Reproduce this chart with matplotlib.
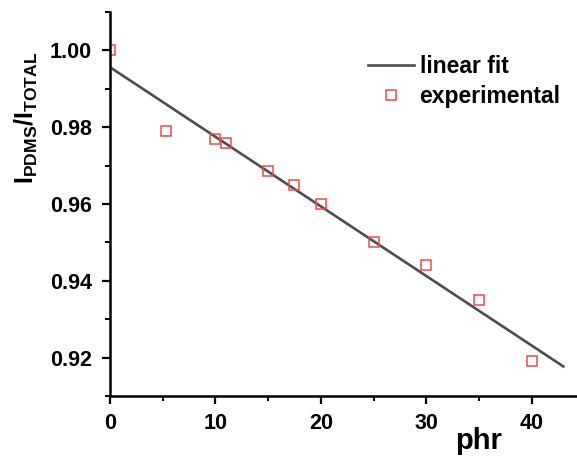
import matplotlib
matplotlib.use("Agg")
import matplotlib.pyplot as plt
from matplotlib.ticker import MultipleLocator, FormatStrFormatter
import numpy as np

# experimental points
phr = [0, 5.3, 10, 11, 15, 17.5, 20, 25, 30, 35, 40]
ratio = [1.000, 0.979, 0.977, 0.976, 0.9685, 0.965, 0.960, 0.950, 0.944, 0.935, 0.919]
fit_range = [0, 43]

plt.rcParams["font.family"] = ["Liberation Sans", "DejaVu Sans"]
plt.rcParams["font.weight"] = "bold"
plt.rcParams["mathtext.fontset"] = "custom"
plt.rcParams["mathtext.rm"] = "Liberation Sans:bold"
plt.rcParams["mathtext.bf"] = "Liberation Sans:bold"
plt.rcParams["mathtext.it"] = "Liberation Sans:bold"

fig = plt.figure(figsize=(5.77, 4.58), dpi=100)
ax = fig.add_axes([110 / 577, 1 - 396 / 458, 467 / 577, 384 / 458])

slope, intercept = np.polyfit(phr, ratio, 1)
xf = np.array(fit_range, dtype=float)
ax.plot(xf, intercept + slope * xf, color="#4d4d4d", lw=1.9, label="linear fit")
ax.plot(phr, ratio, ls="none", marker="s", ms=7.5, mfc="none", mec="#f04848",
        mew=1.1, label="experimental")

ax.set_xlim(0, 44.3)
ax.set_ylim(0.91, 1.01)
ax.xaxis.set_major_locator(MultipleLocator(10))
ax.xaxis.set_minor_locator(MultipleLocator(5))
ax.yaxis.set_major_locator(MultipleLocator(0.02))
ax.yaxis.set_minor_locator(MultipleLocator(0.01))
ax.yaxis.set_major_formatter(FormatStrFormatter("%.2f"))

for s in ["top", "right"]:
    ax.spines[s].set_visible(False)
for s in ["left", "bottom"]:
    ax.spines[s].set_linewidth(1.8)

ax.tick_params(which="major", direction="out", length=6, width=1.6, labelsize=15.5, pad=6)
ax.tick_params(which="minor", direction="out", length=3.5, width=1.4)
ax.tick_params(axis="y", which="major", pad=7)

ax.set_ylabel(r"$\mathrm{I_{PDMS}/I_{TOTAL}}$", fontsize=18)
ax.yaxis.set_label_coords(-0.15, 0.725)
fig.text(455 / 577, 1 - 449 / 458, "phr", fontsize=21, fontweight="bold")

ax.legend(loc="upper left", bbox_to_anchor=(368 / 577, 1 - 55 / 458),
          bbox_transform=fig.transFigure, frameon=False, fontsize=16.5,
          borderpad=0, borderaxespad=0, handlelength=2.0, handletextpad=0.25,
          labelspacing=0.3)

fig.savefig("out.png", dpi=100)
